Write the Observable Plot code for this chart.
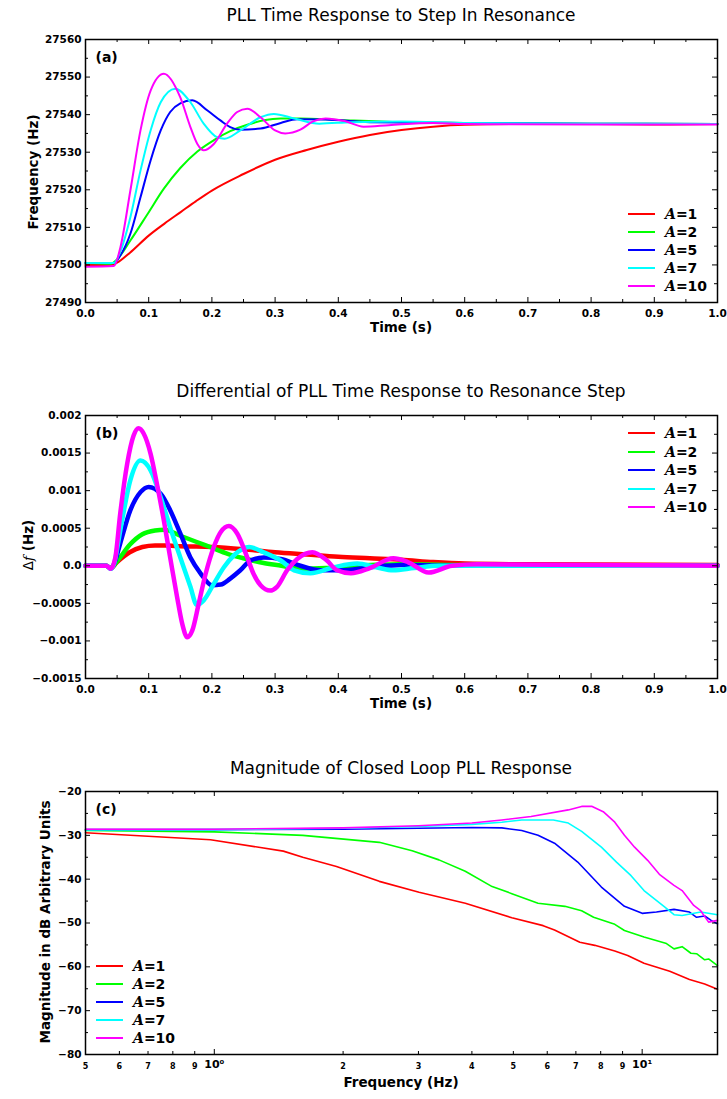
<!DOCTYPE html>
<html><head><meta charset="utf-8">
<script src="https://cdn.jsdelivr.net/npm/d3@7"></script>
<script src="https://cdn.jsdelivr.net/npm/@observablehq/plot@0.6"></script>
<style>
body{margin:0;background:#fff;}
#root{position:relative;width:727px;height:1099px;font-family:"DejaVu Sans",sans-serif;color:#000;overflow:hidden;}
.panel{position:absolute;left:0;}
.title{position:absolute;left:85px;width:632px;text-align:center;font-size:17px;line-height:17px;white-space:nowrap;}
.xlab{position:absolute;left:85px;width:632px;text-align:center;font-size:13.5px;line-height:13.5px;font-weight:bold;white-space:nowrap;}
.ylab{position:absolute;font-size:13.5px;line-height:13.5px;font-weight:bold;white-space:nowrap;transform:translate(-50%,-50%) rotate(-90deg);}
.lg{position:absolute;font-size:14px;line-height:14px;font-weight:bold;white-space:nowrap;}
.lgline{position:absolute;height:2px;width:27px;}
.it{font-family:"DejaVu Serif",serif;font-style:italic;}
</style>
</head><body><div id="root"></div>
<script>
// ---------- shared ----------
const seriesNames = ["1", "2", "5", "7", "10"];
const seriesColors = ["#ff0000", "#00ff00", "#0000ff", "#00ffff", "#ff00ff"];

// ---------- panel (a): frequency vs time ----------
const tA1 = [0, 0.04, 0.05, 0.07, 0.1, 0.125, 0.15, 0.175, 0.2, 0.25, 0.3, 0.35, 0.4, 0.45, 0.5, 0.55, 0.6, 0.7, 0.8, 0.9, 1.0];
const fA1 = [27500, 27500, 27500.6, 27503.2, 27507.8, 27511, 27514, 27517, 27519.8, 27524.2, 27528, 27530.6, 27532.8, 27534.6, 27535.9, 27536.8, 27537.3, 27537.5, 27537.5, 27537.4, 27537.5];
const tA2 = [0, 0.04, 0.05, 0.071, 0.098, 0.124, 0.15, 0.177, 0.203, 0.229, 0.256, 0.282, 0.309, 0.34, 0.4, 0.5, 0.6, 0.8, 1.0];
const fA2 = [27500.5, 27500.3, 27501.5, 27506.5, 27513.5, 27520.3, 27525.8, 27530.2, 27533.2, 27535.6, 27537.3, 27538.5, 27539, 27539, 27538.6, 27538, 27537.8, 27537.6, 27537.5];
const tA5 = [0, 0.045, 0.055, 0.071, 0.087, 0.103, 0.119, 0.134, 0.15, 0.169, 0.193, 0.214, 0.229, 0.245, 0.277, 0.309, 0.335, 0.38, 0.45, 0.6, 0.8, 1.0];
const fA5 = [27500.5, 27500.5, 27502.5, 27508.3, 27518, 27527.8, 27535.8, 27540.7, 27543, 27543.8, 27541.1, 27538.4, 27536.7, 27536, 27536.3, 27537.8, 27538.8, 27538.7, 27538, 27537.8, 27537.6, 27537.5];
const tA7 = [0, 0.045, 0.055, 0.071, 0.087, 0.103, 0.119, 0.142, 0.166, 0.187, 0.208, 0.22, 0.245, 0.277, 0.298, 0.33, 0.37, 0.42, 0.5, 0.6, 0.8, 1.0];
const fA7 = [27500.5, 27500.5, 27503.5, 27512.7, 27525.1, 27535.8, 27543.3, 27546.9, 27543.3, 27537.6, 27534, 27533.6, 27535.8, 27539.3, 27540.2, 27539, 27537.6, 27538, 27538.2, 27537.8, 27537.6, 27537.5];
const tA10 = [0, 0.045, 0.055, 0.071, 0.087, 0.103, 0.124, 0.15, 0.166, 0.177, 0.187, 0.203, 0.224, 0.24, 0.256, 0.277, 0.3, 0.316, 0.34, 0.36, 0.38, 0.41, 0.44, 0.48, 0.55, 0.6, 0.8, 1.0];
const fA10 = [27499.5, 27499.7, 27504.5, 27519.8, 27535.8, 27546.4, 27550.9, 27544.6, 27536.7, 27532.2, 27530.5, 27532.2, 27537.6, 27540.7, 27541.6, 27539.3, 27535.8, 27535, 27536, 27538.2, 27539, 27538.3, 27536.8, 27537.2, 27537.8, 27537.5, 27537.4, 27537.4];

// ---------- panel (b): differential vs time ----------
const tB1 = [0, 0.033, 0.04, 0.05, 0.07, 0.09, 0.11, 0.13, 0.15, 0.2, 0.25, 0.3, 0.35, 0.4, 0.45, 0.5, 0.55, 0.6, 0.7, 1.0];
const dB1 = [0, 0, -0.00003, 0.00005, 0.00018, 0.00025, 0.00027, 0.00027, 0.00026, 0.00025, 0.00022, 0.00018, 0.00015, 0.00012, 0.0001, 0.00008, 0.00005, 0.00003, 0.00002, 0.00001];
const tB2 = [0, 0.033, 0.04, 0.05, 0.07, 0.09, 0.11, 0.125, 0.15, 0.175, 0.2, 0.225, 0.25, 0.28, 0.31, 0.34, 0.38, 0.42, 0.5, 0.6, 1.0];
const dB2 = [0, 0, -0.00003, 0.00006, 0.00028, 0.00042, 0.00047, 0.00048, 0.0004, 0.00032, 0.00024, 0.00016, 0.0001, 0.00004, 0, -0.00004, -0.00003, 0, 0.00002, 0.00001, 0];
const tB5 = [0, 0.033, 0.04, 0.045, 0.055, 0.071, 0.087, 0.1, 0.119, 0.134, 0.15, 0.166, 0.182, 0.2, 0.214, 0.229, 0.245, 0.261, 0.282, 0.309, 0.34, 0.372, 0.403, 0.45, 0.5, 0.6, 1.0];
const dB5 = [0, 0, -0.00004, 0.00002, 0.0003, 0.00074, 0.00098, 0.00105, 0.00096, 0.00074, 0.00043, 0.00011, -0.0001, -0.00026, -0.00025, -0.00017, -0.00006, 0.00007, 0.00011, 0.00009, 0, -0.00006, -0.00006, -0.00002, 0.00001, 0, 0];
const tB7 = [0, 0.033, 0.04, 0.045, 0.055, 0.071, 0.087, 0.103, 0.119, 0.134, 0.15, 0.166, 0.176, 0.187, 0.203, 0.219, 0.235, 0.259, 0.282, 0.309, 0.33, 0.356, 0.393, 0.43, 0.46, 0.487, 0.52, 0.56, 0.6, 1.0];
const dB7 = [0, 0, -0.00004, 0.00002, 0.00047, 0.00114, 0.0014, 0.00127, 0.00091, 0.00051, 0.00011, -0.00028, -0.00052, -0.00046, -0.00024, -0.00002, 0.00014, 0.00025, 0.00018, 0.00007, -0.00006, -0.0001, -0.00002, 0.00003, -0.00002, -0.00006, -0.00003, 0, 0, 0];
const tB10 = [0, 0.033, 0.04, 0.047, 0.055, 0.066, 0.076, 0.084, 0.092, 0.103, 0.113, 0.124, 0.134, 0.145, 0.153, 0.161, 0.169, 0.179, 0.19, 0.203, 0.214, 0.227, 0.24, 0.256, 0.266, 0.277, 0.292, 0.303, 0.319, 0.335, 0.359, 0.382, 0.398, 0.42, 0.45, 0.487, 0.51, 0.543, 0.58, 0.62, 1.0];
const dB10 = [0, 0, -0.00004, 0.0001, 0.0007, 0.00136, 0.00173, 0.00183, 0.00176, 0.00149, 0.00109, 0.0006, 0.00011, -0.00042, -0.00077, -0.00095, -0.00086, -0.00051, -0.00011, 0.00025, 0.00045, 0.00053, 0.00043, 0.00011, -0.00011, -0.00026, -0.00033, -0.00028, -0.00006, 0.00009, 0.00018, 0.00007, -0.00006, -0.0001, -0.00003, 0.0001, 0.00005, -0.00009, 0, 0.00002, 0];

// ---------- panel (c): magnitude vs frequency ----------
const fC1 = [0.5, 0.98, 1.45, 1.61, 1.93, 2.43, 3.01, 3.86, 4.96, 5.87, 6.24, 7.15, 7.75, 8.63, 9.25, 10.1, 10.5, 11.6, 12.9, 14.0, 15.0];
const mC1 = [-29.4, -31.0, -33.6, -35.0, -37.1, -40.5, -43.0, -45.5, -48.8, -50.6, -51.6, -54.4, -55.1, -56.4, -57.4, -59.2, -59.7, -61.0, -62.9, -63.9, -65.1];
const fC2 = [0.5, 1.0, 1.61, 2.43, 2.9, 3.35, 3.86, 4.46, 4.96, 5.71, 6.6, 7.22, 7.7, 8.63, 9.09, 10.1, 11.4, 11.87, 12.4, 13.0, 13.4, 14.0, 14.3, 15.0];
const mC2 = [-28.9, -29.2, -30.0, -31.6, -33.5, -35.6, -38.2, -41.7, -43.3, -45.5, -46.2, -47.2, -48.7, -50.3, -51.7, -53.2, -54.7, -55.9, -55.4, -56.9, -57.0, -58.4, -58.2, -59.7];
const fC5 = [0.5, 1.0, 2.0, 3.0, 4.0, 4.7, 5.23, 5.71, 6.24, 7.07, 8.03, 9.09, 10.0, 10.8, 11.87, 12.9, 13.4, 14.0, 14.5, 15.0];
const mC5 = [-28.7, -28.7, -28.6, -28.4, -28.2, -28.3, -28.9, -30.0, -31.8, -36.1, -41.8, -46.2, -47.8, -47.5, -46.9, -47.5, -48.7, -48.4, -49.4, -50.2];
const fC7 = [0.5, 1.0, 2.0, 3.0, 4.0, 4.7, 5.23, 6.2, 6.72, 7.22, 8.03, 8.71, 9.42, 10.1, 11.3, 11.87, 12.4, 13.7, 15.0];
const mC7 = [-28.8, -28.7, -28.4, -28.0, -27.5, -27.0, -26.5, -26.5, -27.2, -29.1, -32.7, -36.1, -39.2, -42.6, -46.4, -48.1, -48.3, -47.5, -48.1];
const fC10 = [0.5, 1.0, 2.0, 3.0, 4.0, 4.7, 5.5, 6.72, 7.22, 7.64, 8.11, 8.63, 9.09, 9.6, 10.3, 10.97, 11.87, 12.4, 13.2, 13.7, 14.3, 15.0];
const mC10 = [-28.6, -28.6, -28.3, -27.8, -27.2, -26.5, -25.7, -24.2, -23.4, -23.4, -24.6, -27.0, -30.0, -32.7, -35.7, -38.9, -41.4, -42.6, -46.0, -47.2, -49.8, -49.4];

// ---------- tick values / labels ----------
const timeTicks = [0, 0.1, 0.2, 0.3, 0.4, 0.5, 0.6, 0.7, 0.8, 0.9, 1.0];
const timeTickLabels = ["0.0", "0.1", "0.2", "0.3", "0.4", "0.5", "0.6", "0.7", "0.8", "0.9", "1.0"];
const timeMinor = [0.05, 0.15, 0.25, 0.35, 0.45, 0.55, 0.65, 0.75, 0.85, 0.95];
const freqTicksA = [27490, 27500, 27510, 27520, 27530, 27540, 27550, 27560];
const freqTickLabelsA = ["27490", "27500", "27510", "27520", "27530", "27540", "27550", "27560"];
const freqMinorA = [27495, 27505, 27515, 27525, 27535, 27545, 27555];
const diffTicks = [-0.0015, -0.001, -0.0005, 0, 0.0005, 0.001, 0.0015, 0.002];
const diffTickLabels = ["\u22120.0015", "\u22120.001", "\u22120.0005", "0.0", "0.0005", "0.001", "0.0015", "0.002"];
const diffMinor = [-0.00125, -0.00075, -0.00025, 0.00025, 0.00075, 0.00125, 0.00175];
const magTicks = [-80, -70, -60, -50, -40, -30, -20];
const magTickLabels = ["\u221280", "\u221270", "\u221260", "\u221250", "\u221240", "\u221230", "\u221220"];
const magMinor = [-75, -65, -55, -45, -35, -25];
const hzMajor = [1, 10];
const hzMajorLabels = ["10\u2070", "10\u00b9"];
const hzMinor = [0.5, 0.6, 0.7, 0.8, 0.9, 2, 3, 4, 5, 6, 7, 8, 9];
const hzMinorLabels = ["5", "6", "7", "8", "9", "2", "3", "4", "5", "6", "7", "8", "9"];

// ---------- layout ----------
const W = 727, H = 340, MT = 39, MB = 38, ML = 85, MR = 10;
const PW = W - ML - MR, PH = H - MT - MB;
const root = document.getElementById("root");
const pts = (xs, ys) => xs.map((x, i) => ({x, y: ys[i]}));

function ticksX(vals, len) {
  return [
    Plot.tickX(vals, {x: d => d, insetTop: PH - len, stroke: "#000", strokeWidth: 1}),
    Plot.tickX(vals, {x: d => d, insetBottom: PH - len, stroke: "#000", strokeWidth: 1})
  ];
}
function ticksY(vals, len) {
  return [
    Plot.tickY(vals, {y: d => d, insetRight: PW - len, stroke: "#000", strokeWidth: 1}),
    Plot.tickY(vals, {y: d => d, insetLeft: PW - len, stroke: "#000", strokeWidth: 1})
  ];
}
function labelsX(vals, labels, size, dy) {
  return Plot.text(vals, {x: d => d, text: (d, i) => labels[i], frameAnchor: "bottom", dy, lineAnchor: "middle", fontSize: size, fontWeight: "bold"});
}
function labelsY(vals, labels) {
  return Plot.text(vals, {y: d => d, text: (d, i) => labels[i], frameAnchor: "left", dx: -4, textAnchor: "end", fontSize: 10.5, fontWeight: "bold"});
}

function makePanel({top, x, y, series, strokeWidth, curve, marks, tag}) {
  const lines = series.map((s, i) => Plot.line(s, {x: "x", y: "y", stroke: seriesColors[i], strokeWidth, curve}));
  const svg = Plot.plot({
    width: W, height: H, marginTop: MT, marginBottom: MB, marginLeft: ML, marginRight: MR,
    x: {...x, axis: null}, y: {...y, axis: null},
    style: {fontFamily: "DejaVu Sans", background: "white", overflow: "visible", color: "#000"},
    marks: [
      ...lines,
      ...marks,
      Plot.text([tag], {text: d => d, frameAnchor: "top-left", dx: 10, dy: 13, lineAnchor: "top", fontSize: 14, fontWeight: "bold"}),
      Plot.frame({stroke: "#000", strokeWidth: 1.5})
    ]
  });
  const wrap = document.createElement("div");
  wrap.className = "panel";
  wrap.style.top = top + "px";
  wrap.appendChild(svg);
  root.appendChild(wrap);
}

function addText(cls, html, styles) {
  const d = document.createElement("div");
  d.className = cls;
  d.innerHTML = html;
  Object.assign(d.style, styles);
  root.appendChild(d);
}
function addLegend(x0, y0, step) {
  seriesNames.forEach((n, i) => {
    const yc = y0 + i * step;
    const l = document.createElement("div");
    l.className = "lgline";
    Object.assign(l.style, {left: x0 + "px", top: (yc - 1) + "px", background: seriesColors[i]});
    root.appendChild(l);
    addText("lg", '<span class="it">A</span>=' + n, {left: (x0 + 37) + "px", top: (yc - 7) + "px"});
  });
}

// Panel (a)
makePanel({
  top: 0, tag: "(a)", strokeWidth: 2, curve: "monotone-x",
  x: {domain: [0, 1]}, y: {domain: [27490, 27560]},
  series: [pts(tA1, fA1), pts(tA2, fA2), pts(tA5, fA5), pts(tA7, fA7), pts(tA10, fA10)],
  marks: [
    ...ticksX(timeTicks, 5), ...ticksX(timeMinor, 3),
    ...ticksY(freqTicksA, 5), ...ticksY(freqMinorA, 3),
    labelsX(timeTicks, timeTickLabels, 10.5, 11),
    labelsY(freqTicksA, freqTickLabelsA)
  ]
});
// Panel (b)
makePanel({
  top: 376, tag: "(b)", strokeWidth: 4.5, curve: "monotone-x",
  x: {domain: [0, 1]}, y: {domain: [-0.0015, 0.002]},
  series: [pts(tB1, dB1), pts(tB2, dB2), pts(tB5, dB5), pts(tB7, dB7), pts(tB10, dB10)],
  marks: [
    ...ticksX(timeTicks, 5), ...ticksX(timeMinor, 3),
    ...ticksY(diffTicks, 5), ...ticksY(diffMinor, 3),
    labelsX(timeTicks, timeTickLabels, 10.5, 11),
    labelsY(diffTicks, diffTickLabels)
  ]
});
// Panel (c)
makePanel({
  top: 752, tag: "(c)", strokeWidth: 1.6, curve: "linear",
  x: {type: "log", domain: [0.5, 15]}, y: {domain: [-80, -20]},
  series: [pts(fC1, mC1), pts(fC2, mC2), pts(fC5, mC5), pts(fC7, mC7), pts(fC10, mC10)],
  marks: [
    ...ticksX(hzMajor, 5), ...ticksX(hzMinor, 3),
    ...ticksY(magTicks, 5), ...ticksY(magMinor, 3),
    labelsX(hzMinor, hzMinorLabels, 8, 12),
    labelsX(hzMajor, hzMajorLabels, 11, 10),
    labelsY(magTicks, magTickLabels)
  ]
});

// Titles and axis labels
addText("title", "PLL Time Response to Step In Resonance", {top: "7px"});
addText("title", "Differential of PLL Time Response to Resonance Step", {top: "383px"});
addText("title", "Magnitude of Closed Loop PLL Response", {top: "760px"});
addText("xlab", "Time (s)", {top: "321px"});
addText("xlab", "Time (s)", {top: "697px"});
addText("xlab", "Frequency (Hz)", {top: "1076px"});
addText("ylab", "Frequency (Hz)", {left: "34px", top: "172px"});
addText("ylab", '<span style="font-weight:normal">\u0394</span><span class="it" style="font-weight:normal">f</span> (Hz)', {left: "29px", top: "545px"});
addText("ylab", "Magnitude in dB Arbitrary Units", {left: "46px", top: "922px"});

// Legends
addLegend(628, 214, 18);
addLegend(628, 433, 18.5);
addLegend(96, 966, 18);
</script>
</body></html>
